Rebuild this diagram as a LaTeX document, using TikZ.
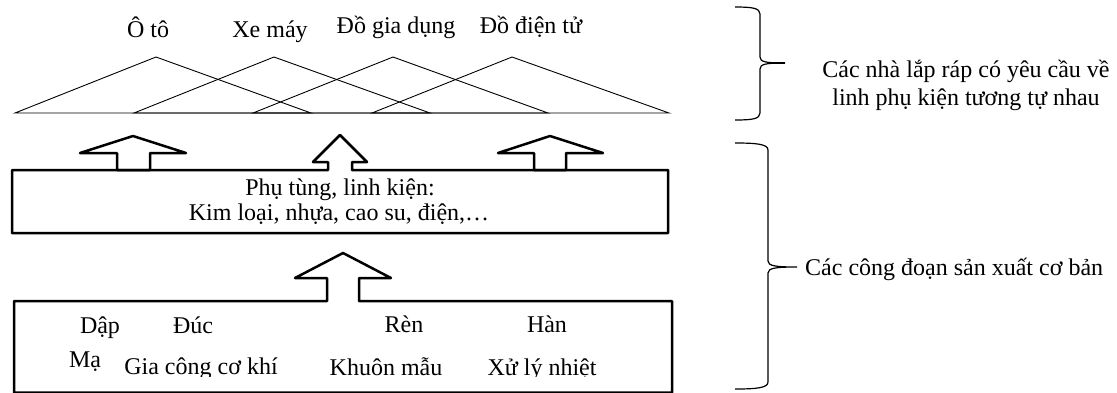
\documentclass[tikz,border=0pt]{standalone}
\usepackage{fontspec}
\setmainfont{Liberation Serif}
\begin{document}
\begin{tikzpicture}[x=1pt,y=-1pt,
  lbl/.style={inner sep=0pt, anchor=base, font=\fontsize{24}{25}\selectfont},
  lblw/.style={lbl, anchor=base west},
  tri/.style={line width=0.9pt, line join=miter},
  outline/.style={line width=2.5pt, line join=round},
  bracepen/.style={line width=1.2pt}]
\useasboundingbox (0,0) rectangle (1117,392);

% overlapping assembler triangles
\foreach \l/\a/\r in {15/156/311, 134/274/430, 253/393/548, 372/512/669}
  \draw[tri] (\l,113) -- (\a,57) -- (\r,113) -- cycle;

\node[lbl] (oto)   at (148,37) {Ô tô};
\node[lbl] (xemay) at (270,37) {Xe máy};
\node[lbl] (giad)  at (396,33) {Đồ gia dụng};
\node[lbl] (dient) at (531,33) {Đồ điện tử};

% parts box merged with its central arrow
\draw[outline] (12,233) -- (12,170) -- (328,170) -- (328,162) -- (313,162)
  -- (340,135) -- (367,162) -- (352,162) -- (352,170) -- (668,170)
  -- (668,233) -- cycle;
% side arrows towards the assemblers
\draw[outline] (117,170) -- (117,153) -- (80,153) -- (133,136) -- (186,153)
  -- (150,153) -- (150,170) -- cycle;
\draw[outline] (534,170) -- (534,153) -- (498,153) -- (550,136) -- (603,153)
  -- (566,153) -- (566,170) -- cycle;

\node[lbl] (parts1) at (340,195) {Phụ tùng, linh kiện:};
\node[lbl] (parts2) at (339,220) {Kim loại, nhựa, cao su, điện,…};

% process box merged with its arrow
\draw[outline] (14,392.6) -- (14,301) -- (327,301) -- (327,278) -- (295,278)
  -- (343,253) -- (391,278) -- (359,278) -- (359,301) -- (672,301)
  -- (672,392.6) -- cycle;

\node[lbl] (dap) at (100,333) {Dập};
\node[lbl] (duc) at (193,333) {Đúc};
\node[lbl] (ren) at (404,332) {Rèn};
\node[lbl] (han) at (547,332) {Hàn};
\begin{scope}
  \clip (14,301) rectangle (672,376.5);
  \node[lbl] (ma)   at (85,367)  {Mạ};
  \node[lbl] (gcck) at (201,374) {Gia công cơ khí};
  \node[lbl] (khuon) at (386,375) {Khuôn mẫu};
  \node[lbl] (xlnh) at (542,375) {Xử lý nhiệt};
\end{scope}

% braces
\draw[bracepen] (735,7) .. controls (752,7) and (760,8) .. (760,14) -- (760,57)
  .. controls (760,62) and (766,63) .. (785,63)
  .. controls (766,63) and (760,64) .. (760,69) -- (760,113)
  .. controls (760,119) and (752,120) .. (735,120);
\draw[line width=2pt] (772,63) -- (785,63);
\draw[bracepen] (735,143) .. controls (756,143) and (768,144) .. (768,150) -- (768,261)
  .. controls (768,266) and (776,267) .. (797,267)
  .. controls (776,267) and (768,268) .. (768,273) -- (768,382)
  .. controls (768,388) and (756,389) .. (735,389);

\node[lbl] (asm1) at (966,77)  {Các nhà lắp ráp có yêu cầu về};
\node[lbl] (asm2) at (966,105) {linh phụ kiện tương tự nhau};
\node[lblw] (proc) at (805,275) {Các công đoạn sản xuất cơ bản};
\end{tikzpicture}
\end{document}
